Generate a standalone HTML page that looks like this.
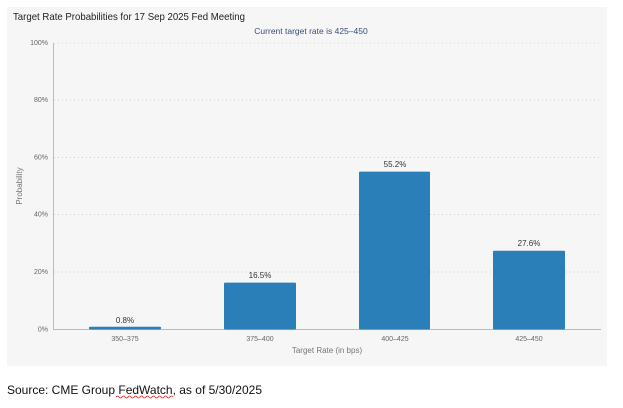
<!DOCTYPE html>
<html><head><style>
body{margin:0;background:#fff;width:623px;height:403px;overflow:hidden}
</style></head><body>
<svg width="623" height="403" xmlns="http://www.w3.org/2000/svg" font-family="Liberation Sans, sans-serif">
<rect x="7" y="7" width="600" height="359" fill="#f6f6f6"/>
<text x="13" y="20" font-size="10.5" fill="#222" textLength="232" lengthAdjust="spacingAndGlyphs">Target Rate Probabilities for 17 Sep 2025 Fed Meeting</text>
<text x="311" y="34" font-size="8.5" fill="#3b4d7a" text-anchor="middle">Current target rate is 425–450</text>
<g stroke="#d0d0d0" stroke-width="1" stroke-dasharray="1,3">
<line x1="54" y1="43" x2="602" y2="43"/>
<line x1="54" y1="100" x2="602" y2="100"/>
<line x1="54" y1="157.5" x2="602" y2="157.5"/>
<line x1="54" y1="214.5" x2="602" y2="214.5"/>
<line x1="54" y1="272" x2="602" y2="272"/>
</g>
<line x1="53.5" y1="43" x2="53.5" y2="329" stroke="#bbb"/>
<line x1="53" y1="329.5" x2="601" y2="329.5" stroke="#bbb"/>
<g font-size="7" fill="#666" text-anchor="end">
<text x="48" y="45">100%</text><text x="48" y="102">80%</text><text x="48" y="159.5">60%</text>
<text x="48" y="216.5">40%</text><text x="48" y="274">20%</text><text x="48" y="331.5">0%</text>
</g>
<text transform="translate(22,186) rotate(-90)" font-size="8" fill="#777" text-anchor="middle">Probability</text>
<g fill="#2a7fb8">
<rect x="89" y="326.7" width="72" height="2.8" rx="1"/>
<rect x="224" y="282.6" width="72" height="46.9" rx="1"/>
<rect x="359" y="171.6" width="71" height="157.9" rx="1"/>
<rect x="493" y="250.8" width="72" height="78.7" rx="1"/>
</g>
<g font-size="8" fill="#333" text-anchor="middle">
<text x="125" y="323">0.8%</text><text x="260" y="278">16.5%</text>
<text x="395" y="167">55.2%</text><text x="529" y="246">27.6%</text>
</g>
<g font-size="7" fill="#666" text-anchor="middle">
<text x="125" y="341">350–375</text><text x="260" y="341">375–400</text>
<text x="395" y="341">400–425</text><text x="529" y="341">425–450</text>
</g>
<text x="327" y="353" font-size="8" fill="#777" text-anchor="middle">Target Rate (in bps)</text>
<text x="7" y="394" font-size="12" fill="#111" textLength="255" lengthAdjust="spacingAndGlyphs">Source: CME Group FedWatch, as of 5/30/2025</text>
<path d="M116 397 q1.5 -2 3 0 t3 0 t3 0 t3 0 t3 0 t3 0 t3 0 t3 0 t3 0 t3 0 t3 0 t3 0 t3 0 t3 0 t3 0 t3 0 t3 0 t3 0 t3 0" fill="none" stroke="#e02020" stroke-width="0.8"/>
</svg>
</body></html>
